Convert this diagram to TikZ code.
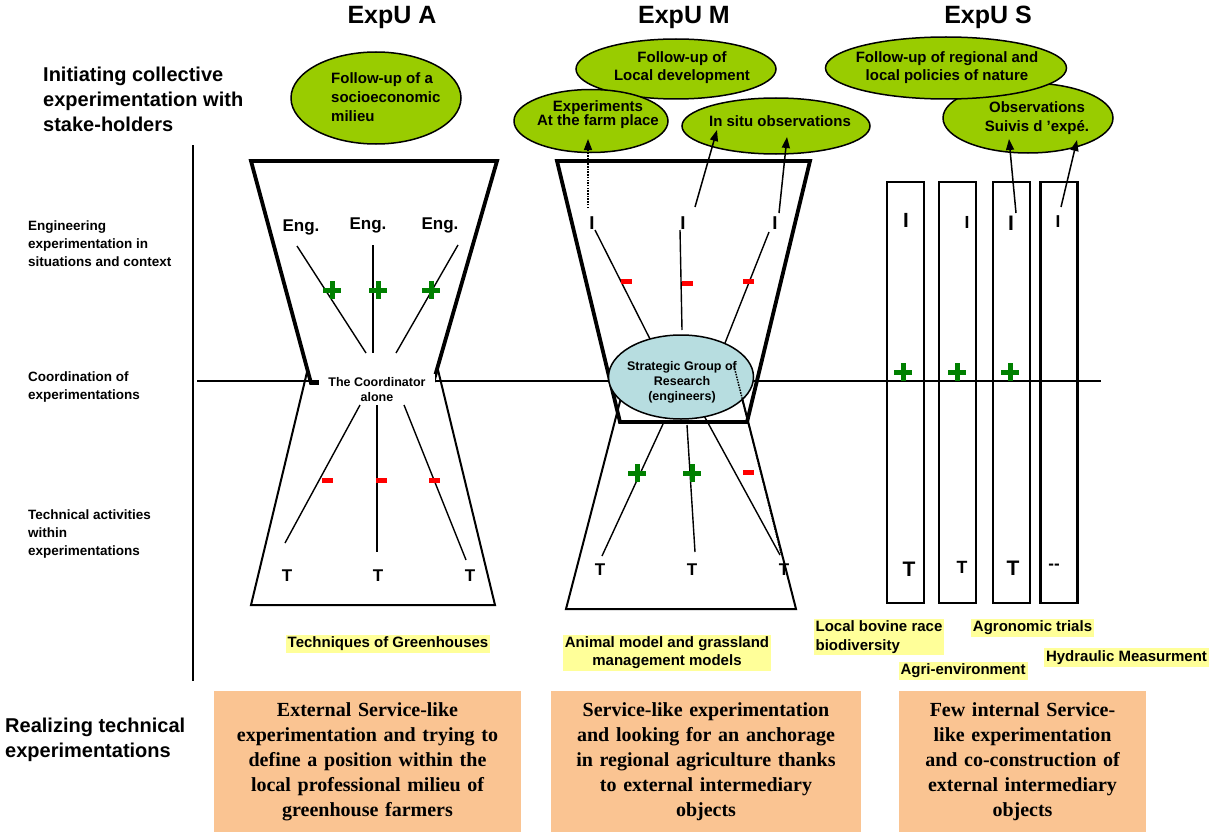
\documentclass[tikz,border=0pt]{standalone}
\usepackage{fontspec}
\setmainfont{Liberation Sans}
\newfontfamily\timesb{Liberation Serif}
\usetikzlibrary{shapes.geometric,arrows.meta}
\definecolor{leaf}{RGB}{153,204,0}
\definecolor{sky}{RGB}{183,221,224}
\definecolor{peach}{RGB}{250,196,146}
\definecolor{lemon}{RGB}{255,255,153}
\definecolor{pgreen}{RGB}{0,128,0}
\definecolor{mred}{RGB}{255,0,0}
\begin{document}
\begin{tikzpicture}[x=1pt,y=-1pt,
  every node/.style={inner sep=0pt},
  ttl/.style={font=\bfseries\fontsize{25}{30}\selectfont, anchor=base},
  head/.style={font=\bfseries\fontsize{20}{25}\selectfont, align=left, anchor=west},
  side/.style={font=\bfseries\fontsize{13.5}{18}\selectfont, align=left, anchor=west},
  axisline/.style={line width=1.8pt},
  heavy/.style={line width=3.8pt, line join=miter},
  trapline/.style={line width=2pt},
  conn/.style={line width=1.4pt},
  arr/.style={line width=1.5pt, -{Triangle[length=11pt,width=8pt]}},
  dotline/.style={line width=1.5pt, dash pattern=on 1.5pt off 1.2pt},
  oval/.style={ellipse, draw, line width=1.5pt, fill=leaf},
  ovtxt/.style={font=\bfseries\fontsize{15}{18}\selectfont, align=center},
  lbl/.style={font=\bfseries\fontsize{17}{20}\selectfont},
  plusn/.style={minimum size=18pt, path picture={
     \fill[pgreen] ([yshift=-2.5pt]path picture bounding box.west) rectangle ([yshift=2.5pt]path picture bounding box.east);
     \fill[pgreen] ([xshift=-2.5pt]path picture bounding box.north) rectangle ([xshift=2.5pt]path picture bounding box.south);}},
  minusn/.style={fill=mred, minimum width=11pt, minimum height=5pt},
  ytag/.style={fill=lemon, font=\bfseries\fontsize{15}{18.5}\selectfont, inner xsep=2pt, inner ysep=2pt},
  obox/.style={fill=peach, font=\timesb\bfseries\fontsize{20}{25}\selectfont, align=center, minimum height=141pt, inner xsep=0pt},
  colbox/.style={draw, line width=2.2pt, minimum width=37pt, minimum height=421pt}
]
\useasboundingbox (0,0) rectangle (1209,832);

% titles
\node[ttl] (tA) at (392,24) {ExpU A};
\node[ttl] (tM) at (684,24) {ExpU M};
\node[ttl] (tS) at (988,24) {ExpU S};

% left labels
\node[head] (hInit) at (43,99) {Initiating collective\\experimentation with\\stake-holders};
\node[side] (sEng) at (28,244) {Engineering\\experimentation in\\situations and context};
\node[side] (sCoo) at (28,387) {Coordination of\\experimentations};
\node[side] (sTec) at (28,534) {Technical activities\\within\\experimentations};
\node[head] (hReal) at (5,740) {Realizing technical\\experimentations};

% axes
\coordinate (vTop) at (193,145); \coordinate (vBot) at (193,681);
\draw[axisline] (vTop) -- (vBot);
\coordinate (hL) at (197,381); \coordinate (hR) at (1101,381);
\draw[axisline] (hL) -- (hR);

% ================= ExpU A =================
\draw[heavy] (251,161) -- (497,161) -- (433,383) -- (311,383) -- cycle;
\draw[trapline] (308,368) -- (251,605) -- (495,605) -- (438,370);

\node[oval, minimum width=170pt, minimum height=92pt] (oA) at (376,98) {};
\node[ovtxt, align=left, anchor=west, font=\bfseries\fontsize{15}{19}\selectfont] (oAt) at (331,97) {Follow-up of a\\socioeconomic\\milieu};

\node[lbl] (eA1) at (301,227) {Eng.};
\node[lbl] (eA2) at (368,225) {Eng.};
\node[lbl] (eA3) at (440,225) {Eng.};

\coordinate (ae1) at (297,246); \coordinate (ac1) at (366,353);
\coordinate (ae2) at (373,245); \coordinate (ac2) at (373,353);
\coordinate (ae3) at (458,245); \coordinate (ac3) at (396,353);
\draw[conn] (ae1) -- (ac1);
\draw[conn] (ae2) -- (ac2);
\draw[conn] (ae3) -- (ac3);

\node[plusn] (pA1) at (332,290) {};
\node[plusn] (pA2) at (378,290) {};
\node[plusn] (pA3) at (431,290) {};

\node[fill=white, align=center, inner xsep=9pt, inner ysep=3pt, font=\bfseries\fontsize{12.5}{15}\selectfont] (coord) at (377,389.5) {The Coordinator\\alone};

\coordinate (ac4) at (360,405); \coordinate (at1) at (285,543);
\coordinate (ac5) at (377,405); \coordinate (at2) at (377,552);
\coordinate (ac6) at (404,405); \coordinate (at3) at (466,560);
\draw[conn] (ac4) -- (at1);
\draw[conn] (ac5) -- (at2);
\draw[conn] (ac6) -- (at3);

\node[minusn] (mA1) at (327,480) {};
\node[minusn] (mA2) at (381,480) {};
\node[minusn] (mA3) at (434,480) {};

\node[lbl] (TA1) at (287,576) {T};
\node[lbl] (TA2) at (378,576) {T};
\node[lbl] (TA3) at (470,576) {T};

% ================= ExpU M =================
\draw[heavy] (557,161) -- (810,161) -- (747,422) -- (620,422) -- cycle;
\draw[trapline] (623,390) -- (566,609) -- (796,609) -- (740,390);

\node[oval, minimum width=200pt, minimum height=60pt] (oM1) at (676,69) {};
\node[ovtxt] (oM1t) at (682,68) {Follow-up of\\Local development};
\node[oval, minimum width=154pt, minimum height=63pt] (oM2) at (591,121) {};
\node[ovtxt, font=\bfseries\fontsize{15}{14}\selectfont] (oM2t) at (598,115) {Experiments\\At the farm place};
\node[oval, minimum width=188pt, minimum height=56pt] (oM3) at (776,126) {};
\node[ovtxt] (oM3t) at (780,121) {In situ observations};

\node[font=\bfseries\fontsize{18.6}{20}\selectfont] (IM1) at (592,223) {I};
\node[font=\bfseries\fontsize{18.6}{20}\selectfont] (IM2) at (683,223) {I};
\node[font=\bfseries\fontsize{18.6}{20}\selectfont] (IM3) at (775,223) {I};

\coordinate (mu1) at (588,208); \coordinate (mh1) at (588,139);
\coordinate (mu2) at (695,207); \coordinate (mh2) at (717,130);
\coordinate (mu3) at (779,213); \coordinate (mh3) at (787,137);
\draw[dotline, -{Triangle[length=11pt,width=8pt]}] (mu1) -- (mh1);
\draw[arr] (mu2) -- (mh2);
\draw[arr] (mu3) -- (mh3);

\coordinate (md1) at (595,230); \coordinate (ms1) at (652,343);
\coordinate (md2) at (680,230); \coordinate (ms2) at (682,330);
\coordinate (md3) at (769,232); \coordinate (ms3) at (725,343);
\draw[conn] (md1) -- (ms1);
\draw[conn] (md2) -- (ms2);
\draw[conn] (md3) -- (ms3);

\node[minusn] (mM1) at (626,281) {};
\node[minusn] (mM2) at (687,283) {};
\node[minusn] (mM3) at (748,281) {};

\coordinate (mb1) at (663,424); \coordinate (mt1) at (602,556);
\coordinate (mb2) at (687,425); \coordinate (mt2) at (695,552);
\coordinate (mb3) at (702,412); \coordinate (mt3) at (780,555);
\draw[conn] (mb1) -- (mt1);
\draw[conn] (mb2) -- (mt2);
\draw[conn] (mb3) -- (mt3);

\node[ellipse, draw, line width=1.5pt, fill=sky, minimum width=145pt, minimum height=84pt] (sg) at (681,377) {};
\node[align=center, font=\bfseries\fontsize{12.5}{15}\selectfont] (sgt) at (682,382) {Strategic Group of\\Research\\(engineers)};
\coordinate (sgd) at (734,366); \coordinate (sgT) at (781,553);
\draw[dotline] (sgd) -- (sgT);

\node[plusn] (pM1) at (637,473) {};
\node[plusn] (pM2) at (692,473) {};
\node[minusn] (mM4) at (748,472) {};

\node[lbl] (TM1) at (600,570) {T};
\node[lbl] (TM2) at (692,570) {T};
\node[lbl] (TM3) at (784,570) {T};

% ================= ExpU S =================
\node[oval, minimum width=170pt, minimum height=70pt] (oS2) at (1028,118) {};
\node[oval, minimum width=241pt, minimum height=62pt] (oS1) at (946,68) {};
\node[ovtxt] (oS1t) at (947,68) {Follow-up of regional and\\local policies of nature};
\node[ovtxt, font=\bfseries\fontsize{15}{19}\selectfont] (oS2t) at (1037,118) {Observations\\Suivis d ’expé.};

\node[colbox] (r1) at (905.5,392.5) {};
\node[colbox] (r2) at (957.5,392.5) {};
\node[colbox] (r3) at (1011.5,392.5) {};
\node[colbox] (r4) at (1059,392.5) {};

\node[font=\bfseries\fontsize{20.5}{22}\selectfont] (IS1) at (906,220) {I};
\node[font=\bfseries\fontsize{17.5}{20}\selectfont] (IS2) at (967,222) {I};
\node[font=\bfseries\fontsize{21}{22}\selectfont] (IS3) at (1011,223) {I};
\node[font=\bfseries\fontsize{17.2}{20}\selectfont] (IS4) at (1058,222) {I};

\coordinate (su3) at (1016,213); \coordinate (sh3) at (1009,139);
\coordinate (su4) at (1061,207); \coordinate (sh4) at (1077,140);
\draw[arr] (su3) -- (sh3);
\draw[arr] (su4) -- (sh4);

\node[plusn] (pS1) at (903,372) {};
\node[plusn] (pS2) at (957,372) {};
\node[plusn] (pS3) at (1010,372) {};

\node[font=\bfseries\fontsize{21}{22}\selectfont] (TS1) at (909,569) {T};
\node[font=\bfseries\fontsize{17.7}{20}\selectfont] (TS2) at (962,567) {T};
\node[font=\bfseries\fontsize{21}{22}\selectfont] (TS3) at (1013,568) {T};
\node[font=\bfseries\fontsize{17}{20}\selectfont] (TS4) at (1054,567) {{-}{-}};

% ================= yellow tags =================
\node[ytag, text height=11pt, text depth=3.5pt] (g1) at (388,644) {Techniques of Greenhouses};
\node[ytag, align=center, font=\bfseries\fontsize{15}{18}\selectfont] (g2) at (667,653) {Animal model and grassland\\management models};
\node[ytag, align=left, font=\bfseries\fontsize{15}{18.5}\selectfont] (g3) at (879,637) {Local bovine race\\biodiversity};
\node[ytag, text height=11pt, text depth=3.5pt] (g4) at (1032.5,628) {Agronomic trials};
\node[ytag, text height=11pt, text depth=3.5pt] (g5) at (1126.5,657.5) {Hydraulic Measurment};
\node[ytag, text height=11pt, text depth=3.5pt] (g6) at (963,671) {Agri-environment};

% ================= orange boxes =================
\node[obox, text width=307pt] (b1) at (367.5,761.5) {External Service-like\\experimentation and trying to\\define a position within the\\local professional milieu of\\greenhouse farmers};
\node[obox, text width=310pt] (b2) at (706,761.5) {Service-like experimentation\\and looking for an anchorage\\in regional agriculture thanks\\to external intermediary\\objects};
\node[obox, text width=247pt] (b3) at (1022.5,761.5) {Few internal Service-\\like experimentation\\and co-construction of\\external intermediary\\objects};

\end{tikzpicture}
\end{document}
